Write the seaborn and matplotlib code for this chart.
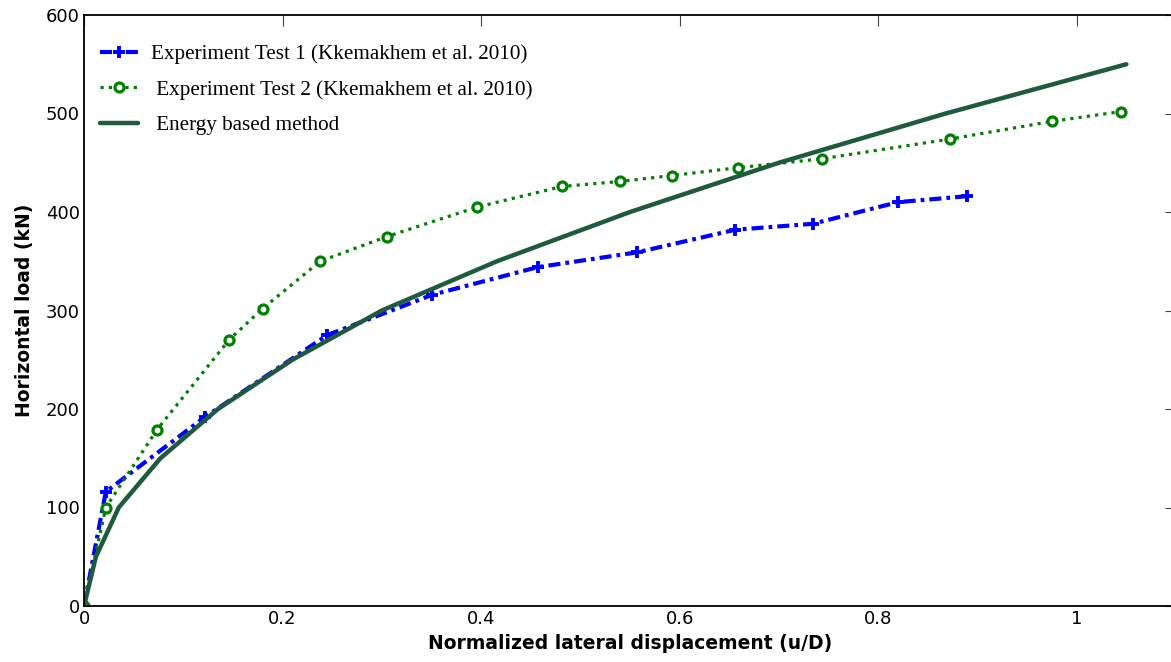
import matplotlib
matplotlib.use("Agg")
import matplotlib.pyplot as plt
import seaborn as sns
import pandas as pd

# Experiment Test 1 (blue, dash-dot, + markers)
test1_u = [0.0, 0.022, 0.122, 0.245, 0.351, 0.457, 0.557, 0.656, 0.734, 0.820, 0.889]
test1_load = [0, 116, 192, 275, 316, 344, 359, 382, 388, 410, 416]

# Experiment Test 2 (green, dotted, o markers)
test2_u = [0.0, 0.022, 0.0735, 0.146, 0.180, 0.238, 0.305, 0.396, 0.482, 0.540, 0.592, 0.659, 0.743, 0.872, 0.975, 1.045]
test2_load = [0, 100, 179, 270, 302, 350, 375, 405, 426, 431, 437, 445, 454, 474, 492, 502]

# Energy based method (dark green solid)
energy_u = [0.0, 0.012, 0.035, 0.077, 0.135, 0.210, 0.300, 0.416, 0.550, 0.700, 0.868, 1.050]
energy_load = [0, 50, 100, 150, 200, 250, 300, 350, 400, 450, 500, 550]

labels = ["Experiment Test 1 (Kkemakhem et al. 2010)",
          " Experiment Test 2 (Kkemakhem et al. 2010)",
          " Energy based method"]
x_ticks = [0, 0.2, 0.4, 0.6, 0.8, 1]
x_tick_labels = ["0", "0.2", "0.4", "0.6", "0.8", "1"]
y_ticks = [0, 100, 200, 300, 400, 500, 600]

sns.set_style("white")
plt.rcParams['font.family'] = ['DejaVu Sans']
plt.rcParams['text.color'] = 'black'
plt.rcParams['axes.labelcolor'] = 'black'
plt.rcParams['xtick.color'] = 'black'
plt.rcParams['ytick.color'] = 'black'

fig = plt.figure(figsize=(11.71, 6.62), dpi=100)
W, H = 1171, 662
ax = fig.add_axes([84 / W, 56 / H, (1176 - 84) / W, (606 - 15) / H])

df1 = pd.DataFrame({"u": test1_u, "load": test1_load})
df2 = pd.DataFrame({"u": test2_u, "load": test2_load})
df3 = pd.DataFrame({"u": energy_u, "load": energy_load})

sns.lineplot(data=df1, x="u", y="load", ax=ax, sort=False, color="#0000ff",
             linestyle=(0, (2.9, 1.2, 0.9, 1.2)), linewidth=3.0,
             dash_capstyle="butt", marker="+", markersize=9,
             markeredgecolor="#0000ff", markeredgewidth=2.8, label=labels[0])
sns.lineplot(data=df2, x="u", y="load", ax=ax, sort=False, color="#008000",
             linestyle=(0, (1, 1.6)), linewidth=2.3, dash_capstyle="butt",
             marker="o", markersize=6.5,
             markerfacecolor="white", markeredgecolor="#008000",
             markeredgewidth=2.3, label=labels[1])
sns.lineplot(data=df3, x="u", y="load", ax=ax, sort=False, color="#1f5a3e",
             linestyle="-", linewidth=3.2, label=labels[2])

ax.set_xlim(0, 1.1)
ax.set_ylim(0, 600)
ax.set_xticks(x_ticks)
ax.set_xticklabels(x_tick_labels)
ax.set_yticks(y_ticks)
ax.tick_params(axis="both", direction="in", length=8, width=0.8, color="#444444",
               labelcolor="black", labelsize=13, top=True, right=True, pad=3)
for s in ax.spines.values():
    s.set_color("black")
    s.set_linewidth(1.3)

ax.set_xlabel("Normalized lateral displacement (u/D)", fontsize=13.5,
              fontweight="bold", labelpad=4.5, color="black")
ax.set_ylabel("Horizontal load (kN)", fontsize=13.5, fontweight="bold",
              labelpad=8.5, color="black")

leg = ax.legend(loc="upper left", frameon=False,
                prop={"family": "Liberation Serif", "size": 15.2},
                handlelength=1.8, handletextpad=0.6, labelspacing=0.75,
                borderaxespad=0.0, borderpad=0.4,
                bbox_to_anchor=(0.007, 0.965))
for t in leg.get_texts():
    t.set_color("black")

fig.savefig("out.png", dpi=100)
